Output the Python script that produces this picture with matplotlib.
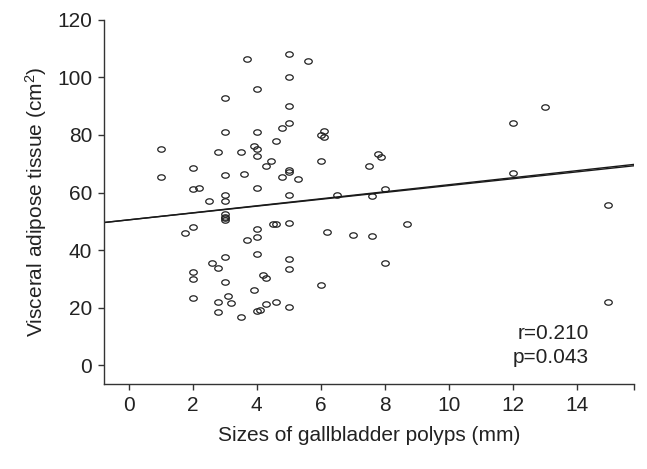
import numpy as np
import matplotlib.pyplot as plt
from matplotlib.path import Path

plt.rcParams['font.family'] = ['Liberation Sans', 'DejaVu Sans']
plt.rcParams['mathtext.fontset'] = 'custom'
plt.rcParams['mathtext.rm'] = 'Liberation Sans'
plt.rcParams['mathtext.it'] = 'Liberation Sans:italic'

# 息肉大小 (mm) 与内脏脂肪面积 (cm^2)
polyp_size = [1.0, 1.0, 1.75, 2.0, 2.0, 2.2, 2.0, 2.0, 2.0, 2.0,
              2.5, 2.6, 2.8, 2.8, 2.8, 2.8,
              3.0, 3.0, 3.0, 3.0, 3.0, 3.0, 3.0, 3.0, 3.0, 3.0, 3.0, 3.1, 3.2,
              3.5, 3.5, 3.6, 3.7, 3.7, 3.9, 3.9,
              4.0, 4.0, 4.0, 4.0, 4.0, 4.0, 4.0, 4.0, 4.0, 4.1, 4.2, 4.3, 4.3, 4.3,
              4.45, 4.5, 4.6, 4.6, 4.6, 4.8, 4.8,
              5.0, 5.0, 5.0, 5.0, 5.0, 5.0, 5.0, 5.0, 5.0, 5.0, 5.0, 5.3, 5.6,
              6.1, 6.0, 6.1, 6.0, 6.0, 6.2, 6.5,
              7.0, 7.5, 7.6, 7.6, 7.8, 7.9, 8.0, 8.0, 8.7,
              12.0, 12.0, 13.0, 15.0, 15.0]
vat_area = [75, 65.5, 46, 68.6, 61.2, 61.4, 47.9, 32.2, 29.8, 23.2,
            57, 35.6, 74, 33.6, 21.9, 18.5,
            93, 81, 66, 59, 57.2, 52.5, 51.6, 51, 50.4, 37.7, 29, 24, 21.5,
            74.2, 16.7, 66.4, 106.4, 43.5, 76.2, 26,
            96, 81, 75, 72.8, 61.4, 47.2, 44.4, 38.7, 18.9, 19.1, 31.3, 30.3, 69.2, 21.4,
            70.8, 49, 49.1, 78, 22, 82.4, 65.4,
            108, 100, 90, 84, 68, 67, 59.2, 49.5, 37, 33.3, 20.3, 64.7, 105.8,
            81.5, 80, 79.4, 70.8, 27.9, 46.1, 59,
            45.1, 69.3, 58.7, 44.9, 73.4, 72.2, 61.3, 35.4, 49,
            84, 66.7, 89.6, 55.8, 21.8]

# 回归线 (两条几乎重合)
fit_intercepts = [50.5, 50.5]
fit_slopes = [1.22, 1.19]

x_ticks = [0, 2, 4, 6, 8, 10, 12, 14]
y_ticks = [0, 20, 40, 60, 80, 100, 120]
x_lim = (-0.78, 15.8)
y_lim = (-6.6, 120)

stat_text = 'r=0.210\np=0.043'

# 椭圆形空心标记
t = np.linspace(0, 2 * np.pi, 41)
ellipse = Path(np.column_stack([np.cos(t), 0.72 * np.sin(t)]), closed=True)

fig = plt.figure(figsize=(6.47, 4.69), dpi=100)
ax = fig.add_axes([0.1607, 0.1812, 0.8193, 0.7762])

ax.plot(polyp_size, vat_area, linestyle='none', marker=ellipse, markersize=5.4,
        markerfacecolor='none', markeredgecolor='#222222', markeredgewidth=0.9)

xs = np.array(x_lim)
for a, b in zip(fit_intercepts, fit_slopes):
    ax.plot(xs, a + b * xs, color='#1a1a1a', linewidth=1.0)

ax.set_xlim(*x_lim)
ax.set_ylim(*y_lim)
ax.set_xticks(x_ticks)
ax.set_yticks(y_ticks)
ax.set_xticks([x_lim[1]], minor=True)
ax.tick_params(which='both', direction='out', length=4.5, width=1.0,
               color='#333333', labelsize=15, labelcolor='#222222', pad=4)

for s in ['top', 'right']:
    ax.spines[s].set_visible(False)
for s in ['left', 'bottom']:
    ax.spines[s].set_color('#333333')
    ax.spines[s].set_linewidth(1.0)
ax.spines['left'].set_bounds(y_lim[0], y_lim[1])

ax.set_xlabel('Sizes of gallbladder polyps (mm)', fontsize=15, color='#222222', labelpad=8)
ax.set_ylabel(r'Visceral adipose tissue (cm$^{2}$)', fontsize=15, color='#222222', labelpad=6)

ax.text(14.4, 6.8, stat_text, ha='right', va='center', fontsize=15,
        color='#222222', linespacing=1.3)

fig.savefig('out.png', dpi=100)
